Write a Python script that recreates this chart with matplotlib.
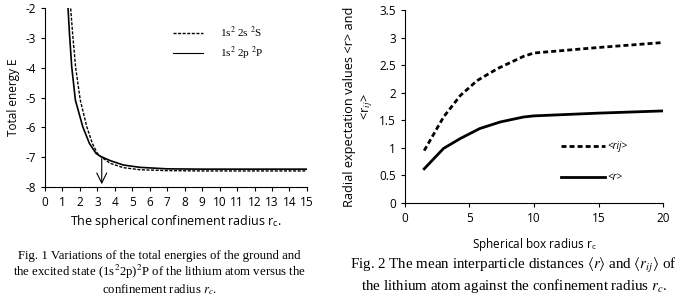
import matplotlib
matplotlib.use("Agg")
import matplotlib.pyplot as plt

plt.rcParams["font.family"] = ["Open Sans", "DejaVu Sans"]
plt.rcParams["mathtext.fontset"] = "stix"
plt.rcParams["axes.unicode_minus"] = False

# Fig. 1 - total energy vs confinement radius
rc_2s = [1.47, 1.58, 1.75, 2.02, 2.39, 2.71, 3.0, 3.15, 3.72, 4.48, 5.44, 7.0, 9.0, 15.0]
e_2s = [-2.0, -2.83, -3.96, -5.08, -5.97, -6.53, -6.87, -6.96, -7.2, -7.35, -7.42, -7.45, -7.46, -7.46]
rc_2p = [1.32, 1.40, 1.53, 1.74, 2.16, 2.54, 2.92, 3.15, 3.72, 4.48, 5.44, 7.0, 9.0, 15.0]
e_2p = [-2.0, -2.83, -3.96, -5.08, -5.97, -6.53, -6.87, -6.96, -7.11, -7.26, -7.34, -7.39, -7.40, -7.40]
arrow_x = 3.25

# Fig. 2 - mean interparticle distances
rc_box = [1.5, 3.0, 4.3, 5.6, 7.2, 9.2, 10.0, 15.0, 20.0]
r_ij = [0.95, 1.56, 1.95, 2.22, 2.44, 2.66, 2.72, 2.82, 2.91]
rc_box2 = [1.5, 3.0, 4.3, 5.8, 7.4, 9.2, 10.0, 15.0, 20.0]
r_mean = [0.62, 0.99, 1.17, 1.35, 1.47, 1.56, 1.58, 1.63, 1.67]

fig = plt.figure(figsize=(6.85, 2.99), dpi=100)

ax1 = fig.add_axes([0.0657, 0.3746, 0.3823, 0.597])
ax1.plot(rc_2s, e_2s, "k--", lw=1.0, dashes=(2.2, 1.1), label="1s$^2$ 2s $^2$S")
ax1.plot(rc_2p, e_2p, "k-", lw=1.2, label="1s$^2$ 2p $^2$P")
ax1.annotate("", xy=(arrow_x, -8), xytext=(arrow_x, -6.95),
             arrowprops=dict(arrowstyle="->", lw=0.8, color="k", mutation_scale=18))
ax1.set_xlim(0, 15)
ax1.set_ylim(-8, -2)
ax1.set_xticks(range(0, 16))
ax1.set_yticks(range(-8, -1))
ax1.spines["top"].set_visible(False)
ax1.spines["right"].set_visible(False)
ax1.tick_params(labelsize=8.5, length=3, width=0.8)
ax1.set_ylabel("Total energy E", fontsize=8.5, labelpad=4)
ax1.set_xlabel("The spherical confinement radius r$_{\\mathregular{c}}$.", fontsize=9, labelpad=3)
leg = ax1.legend(loc="upper left", bbox_to_anchor=(0.449, 0.964), frameon=False,
                 prop={"family": "Liberation Serif", "size": 8}, handlelength=2.7,
                 handletextpad=1.6, labelspacing=0.45)
leg.get_lines()[1].set_linewidth(0.8)

ax2 = fig.add_axes([0.591, 0.321, 0.377, 0.6456])
ax2.plot(rc_box, r_ij, "k--", lw=2.0, dashes=(1.8, 1.1), label="<rij>")
ax2.plot(rc_box2, r_mean, "k-", lw=2.0, label="<r>")
ax2.set_xlim(0, 20)
ax2.set_ylim(0, 3.5)
ax2.set_xticks([0, 5, 10, 15, 20])
ax2.set_yticks([0, 0.5, 1, 1.5, 2, 2.5, 3, 3.5])
ax2.set_yticklabels(["0", "0.5", "1", "1.5", "2", "2.5", "3", "3.5"])
ax2.spines["top"].set_visible(False)
ax2.spines["right"].set_visible(False)
ax2.tick_params(labelsize=8.5, length=3, width=0.8)
ax2.set_ylabel("Radial expectation values <r> and\n<r$_{ij}$>", fontsize=9.2, labelpad=3,
               linespacing=1.3)
ax2.set_xlabel("Spherical box radius r$_{\\mathregular{c}}$", fontsize=8.5, labelpad=8)
ax2.legend(loc="upper left", bbox_to_anchor=(0.570, 0.367), frameon=False,
           prop={"size": 7, "style": "italic"}, handlelength=4.5,
           handletextpad=0.3, labelspacing=2.1)

fig.text(0.233, 0.085,
         "Fig. 1 Variations of the total energies of the ground and\n"
         "the excited state (1s$^2$2p)$^2$P of the lithium atom versus the\n"
         "confinement radius $r_c$.",
         ha="center", va="center", family="Liberation Serif", fontsize=9.2, linespacing=1.08)
fig.text(0.750, 0.0786,
         "Fig. 2 The mean interparticle distances $\\langle r\\rangle$ and $\\langle r_{ij}\\rangle$ of\n"
         "the lithium atom against the confinement radius $r_c$.",
         ha="center", va="center", family="Liberation Serif", fontsize=10.8, linespacing=1.17)

fig.savefig("out.png", dpi=100)
